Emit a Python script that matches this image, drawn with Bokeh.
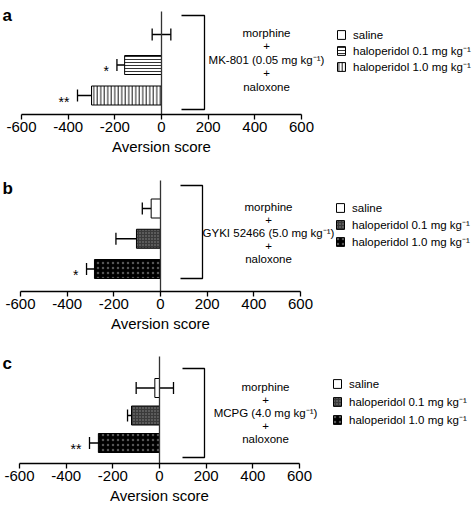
from bokeh.plotting import figure
from bokeh.models import (Range1d, LinearAxis, FixedTicker, Whisker, TeeHead,
                          ColumnDataSource, Legend, LegendItem, Title)
from bokeh.layouts import column
from bokeh.core.properties import value
from bokeh.embed import file_html
from bokeh.resources import INLINE

FONT = "Liberation Sans"

# ---------------- data ----------------
groups = ["saline", "haloperidol 0.1 mg kg\u207b\u00b9", "haloperidol 1.0 mg kg\u207b\u00b9"]
ticks = [-600, -400, -200, 0, 200, 400, 600]
tick_labels = ["-600", "-400", "-200", "0", "200", "400", "600"]
x_label = "Aversion score"

a_mean = [0, -158, -300]
a_sem = [40, 33, 60]
a_sig = ["", "*", "**"]
a_text = ["morphine", "+", "MK-801 (0.05 mg kg\u207b\u00b9)", "+", "naloxone"]

b_mean = [-40, -103, -283]
b_sem = [38, 88, 34]
b_sig = ["", "", "*"]
b_text = ["morphine", "+", "GYKI 52466 (5.0 mg kg\u207b\u00b9)", "+", "naloxone"]

c_mean = [-20, -120, -262]
c_sem = [80, 17, 38]
c_sig = ["", "", "**"]
c_text = ["morphine", "+", "MCPG (4.0 mg kg\u207b\u00b9)", "+", "naloxone"]

# ---------------- styles ----------------
style_a = [dict(fill_color="white"),
           dict(fill_color="white", hatch_pattern="horizontal_line", hatch_color="black",
                hatch_scale=3, hatch_weight=0.8),
           dict(fill_color="white", hatch_pattern="vertical_line", hatch_color="black",
                hatch_scale=3.5, hatch_weight=0.9)]
style_bc = [dict(fill_color="white"),
            dict(fill_color="#3a3a3a", hatch_pattern="dot", hatch_color="#8c8c8c",
                 hatch_scale=3, hatch_weight=1.0),
            dict(fill_color="black", hatch_pattern="dot", hatch_color="#555555",
                 hatch_scale=5, hatch_weight=1.0)]

W = 474
K = 280.0 / 1200.0  # px per data unit
ROW = 15


def panel(letter, mean, sem, sig, text, styles, one_sided, L, top, H):
    x0 = L["x0"]
    c3 = L["ctop"] - top
    sp = (L["cbot"] - L["ctop"]) / 2.0
    axis = L["axis"] - top

    def xd(px):
        return (px - x0) / K

    def vy(px):
        return 3 - (px - c3) / sp

    p = figure(width=W, height=H, x_range=Range1d(xd(0), xd(W)),
               y_range=Range1d(vy(axis), vy(0)),
               x_axis_location=None, y_axis_location=None,
               toolbar_location=None, output_backend="svg",
               min_border_left=0, min_border_right=0, min_border_top=0,
               min_border_bottom=int(round(H - axis)), outline_line_color=None,
               background_fill_color="white", border_fill_color="white")
    p.grid.visible = False

    pos = [3 - i for i in range(len(groups))]
    bh = 19.0 / sp
    rends = []
    for i, g in enumerate(groups):
        r = p.hbar(y=[pos[i]], left=[0], right=[mean[i]], height=bh,
                   line_color="black", line_width=1, **styles[i])
        rends.append(r)

    # zero line
    p.segment(x0=[0], y0=[vy(axis)], x1=[0], y1=[vy(L["ztop"] - top)],
              line_color="#333333", line_width=1.3)

    # error bars
    lower = [m - s for m, s in zip(mean, sem)]
    upper = list(mean) if one_sided else [m + s for m, s in zip(mean, sem)]
    src = ColumnDataSource(dict(base=pos, lower=lower, upper=upper))
    wk = Whisker(source=src, base="base", lower="lower", upper="upper",
                 dimension="width", line_color="black", line_width=1.3,
                 lower_head=TeeHead(size=12, line_width=1.3, line_color="black"),
                 upper_head=None if one_sided else TeeHead(size=12, line_width=1.3, line_color="black"))
    p.add_layout(wk)

    # significance stars
    sx = [lower[i] for i in range(3) if sig[i]]
    sy = [pos[i] for i in range(3) if sig[i]]
    st = [sig[i] for i in range(3) if sig[i]]
    p.text(x=sx, y=sy, text=st, text_align="right", text_baseline="middle",
           x_offset=-8, y_offset=6, text_font=value(FONT), text_font_size="14px",
           text_color="black")

    # bracket
    bx0, bx1 = xd(L["bx"][0]), xd(L["bx"][1])
    bt, bb = vy(L["btop"] - top), vy(L["bbot"] - top)
    p.line(x=[bx0, bx1, bx1, bx0], y=[bt, bt, bb, bb], line_color="black", line_width=1.3)

    # treatment text
    n = len(text)
    p.text(x=[xd(L["tx"])] * n, y=[vy(L["tmid"] - top)] * n, text=text,
           y_offset=[(i - 2) * L["tsp"] for i in range(n)],
           text_align="center", text_baseline="middle",
           text_font=value(FONT), text_font_size="11.5px", text_color="black")

    # panel letter
    p.text(x=[xd(2)], y=[vy(L["ly"] - top)], text=[letter], text_align="left",
           text_baseline="middle", text_font=value(FONT), text_font_size="17px",
           text_font_style="bold", text_color="black")

    # axis
    ax = LinearAxis(ticker=FixedTicker(ticks=ticks), bounds=(ticks[0], ticks[-1]))
    ax.major_label_overrides = {t: s for t, s in zip(ticks, tick_labels)}
    ax.axis_line_width = 1.3
    ax.major_tick_line_width = 1.3
    ax.major_tick_out = 5
    ax.major_tick_in = 0
    ax.minor_tick_out = 0
    ax.minor_tick_in = 0
    ax.major_label_standoff = 2
    ax.major_label_text_font = FONT
    ax.major_label_text_font_size = "15px"
    ax.major_label_text_color = "black"
    p.add_layout(ax, "below")

    p.add_layout(Title(text=x_label, align="left", offset=x0 - 49.6, standoff=2,
                       text_font=FONT, text_font_size="15px", text_font_style="normal",
                       text_color="black"), "below")

    # legend
    spacing = max(0, int(round(L["lsp"] - ROW)))
    ltop = L["lfirst"] - top - ROW / 2.0
    lbot = ltop + 3 * ROW + 2 * spacing
    legend = Legend(items=[LegendItem(label=g, renderers=[r]) for g, r in zip(groups, rends)],
                    location=(int(round(L["lx"])), int(round(axis - lbot))),
                    glyph_width=10, glyph_height=11, label_height=ROW,
                    label_standoff=7, spacing=spacing,
                    padding=0, margin=0, border_line_color=None,
                    background_fill_alpha=0,
                    label_text_font=FONT, label_text_font_size="11.5px",
                    label_text_color="black")
    p.add_layout(legend)
    return p


LA = dict(x0=161, ctop=34, cbot=95, axis=114, ztop=11, btop=15, bbot=109,
          bx=(181, 204), tx=266, tmid=59, tsp=13.5, ly=15,
          lx=336, lfirst=35, lsp=16)
LB = dict(x0=160, ctop=208, cbot=268.5, axis=291, ztop=180, btop=185, bbot=278,
          bx=(180, 202), tx=268, tmid=232, tsp=13, ly=188,
          lx=335, lfirst=207, lsp=17.5)
LC = dict(x0=159, ctop=387.5, cbot=442.5, axis=463, ztop=356, btop=368, bbot=457,
          bx=(182, 204), tx=265, tmid=412, tsp=13, ly=363,
          lx=332, lfirst=384, lsp=18)

pa = panel("a", a_mean, a_sem, a_sig, a_text, style_a, False, LA, 0, 165)
pb = panel("b", b_mean, b_sem, b_sig, b_text, style_bc, True, LB, 165, 172)
pc = panel("c", c_mean, c_sem, c_sig, c_text, style_bc, False, LC, 337, 171)

layout = column(pa, pb, pc, spacing=0)

open("out.html", "w").write(file_html(layout, INLINE))
